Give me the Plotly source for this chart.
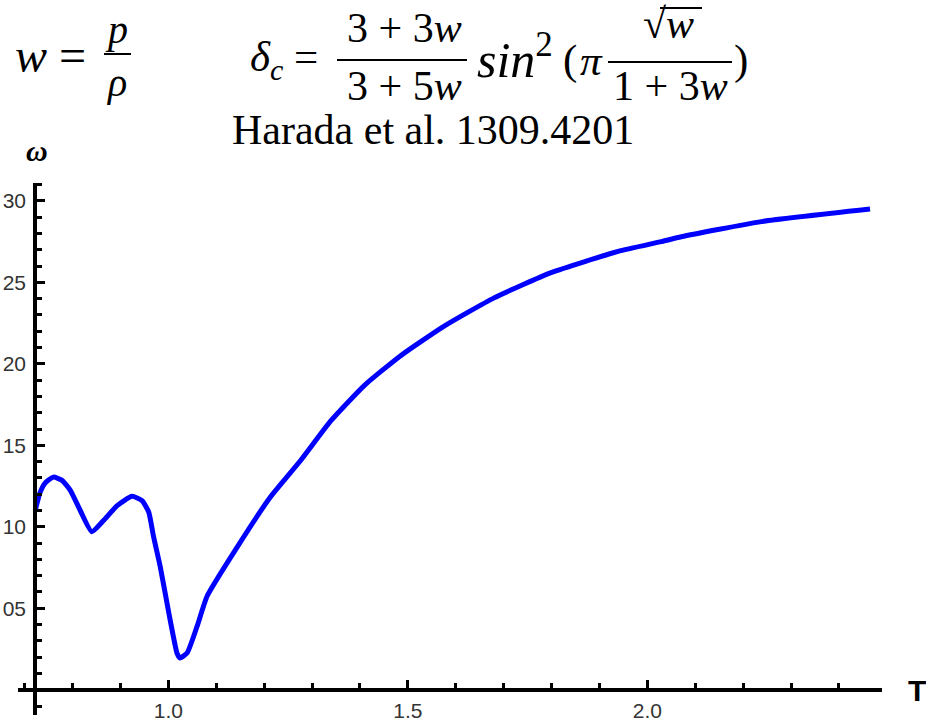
import plotly.graph_objects as go

# Curve samples: temperature T versus omega
T = [0.722, 0.732, 0.743, 0.760, 0.778, 0.795, 0.816, 0.840, 0.865, 0.893,
     0.924, 0.945, 0.959, 0.969, 0.983, 1.001, 1.018, 1.024, 1.039, 1.060,
     1.081, 1.144, 1.213, 1.276, 1.339, 1.410, 1.485,
     1.575, 1.680, 1.799, 1.939, 2.029, 2.071, 2.238, 2.465]
omega = [11.0, 12.1, 12.7, 13.05, 12.85, 12.25, 11.0, 9.7, 10.4, 11.3,
         11.87, 11.6, 10.9, 9.4, 7.55, 4.7, 2.25, 1.95, 2.25, 3.9,
         5.75, 8.77, 11.83, 14.07, 16.5, 18.7, 20.5,
         22.3, 24.05, 25.6, 26.9, 27.5, 27.8, 28.73, 29.5]

x_ticks = [1.0, 1.5, 2.0]
x_tick_text = ["1.0", "1.5", "2.0"]
y_ticks = [5, 10, 15, 20, 25, 30]
y_tick_text = ["05", "10", "15", "20", "25", "30"]

x_range = [0.686, 2.49]
y_range = [-1.55, 31.1]
x_cross = 0.722   # T where the vertical axis sits
y_cross = 0.0     # omega where the horizontal axis sits

W, H = 926, 726
ML, MR, MT, MB = 18, 44, 183, 11
PW, PH = W - ML - MR, H - MT - MB


def px(x):
    return (x - ML) / PW


def py(y):
    return (H - MB - y) / PH


fig = go.Figure()
fig.add_trace(go.Scatter(
    x=T, y=omega, mode="lines",
    line=dict(color="#0000ff", width=5, shape="spline", smoothing=0.5),
    hoverinfo="skip", showlegend=False,
))

tick_font = dict(family="Liberation Sans, Arial, sans-serif", size=21, color="#333333")

fig.update_xaxes(
    range=x_range, anchor="free",
    position=(y_cross - y_range[0]) / (y_range[1] - y_range[0]),
    showline=True, linewidth=4, linecolor="black",
    showgrid=False, zeroline=False,
    tickmode="array", tickvals=x_ticks, ticktext=x_tick_text,
    ticks="inside", ticklen=8, tickwidth=3, tickcolor="black",
    minor=dict(tickmode="linear", tick0=0, dtick=0.1, ticks="inside",
               ticklen=5, tickwidth=3, tickcolor="black", showgrid=False),
    tickfont=tick_font, ticklabelstandoff=1, automargin=False,
)
fig.update_yaxes(
    range=y_range, anchor="free",
    position=(x_cross - x_range[0]) / (x_range[1] - x_range[0]),
    showline=True, linewidth=4, linecolor="black",
    showgrid=False, zeroline=False,
    tickmode="array", tickvals=y_ticks, ticktext=y_tick_text,
    ticks="inside", ticklen=8, tickwidth=3, tickcolor="black",
    minor=dict(tickmode="linear", tick0=0, dtick=1, ticks="inside",
               ticklen=5, tickwidth=3, tickcolor="black", showgrid=False),
    tickfont=tick_font, ticklabelstandoff=3, automargin=False,
)

SERIF = "Liberation Serif, Times New Roman, serif"
annotations = []
shapes = []


def text(s, x, y, size, family=SERIF, xanchor="center", color="black"):
    annotations.append(dict(
        text=s, x=px(x), y=py(y), xref="paper", yref="paper",
        xanchor=xanchor, yanchor="middle", showarrow=False,
        font=dict(family=family, size=size, color=color),
    ))


def bar(x0, x1, y, width=2):
    shapes.append(dict(
        type="line", xref="paper", yref="paper",
        x0=px(x0), x1=px(x1), y0=py(y), y1=py(y),
        line=dict(color="black", width=width),
    ))


# w = p / rho
text("<i>w</i> =", 50, 56, 48)
text("<i>p</i>", 116, 30, 40)
bar(104, 131, 54)
text("<i>ρ</i>", 116, 82, 40)

# delta_c = (3+3w)/(3+5w) sin^2(pi sqrt(w)/(1+3w))
text("<i>δ<sub>c</sub></i> =", 284, 60, 43)
text("3 + 3<i>w</i>", 404, 28, 42)
bar(337, 467, 60)
text("3 + 5<i>w</i>", 404, 86, 42)
text("<i>sin</i><sup>2</sup>", 475, 57, 50, xanchor="left")
text("(", 570, 60, 43)
text("<i>π</i>", 591, 60, 43)
text("√<i>w</i>", 668, 24, 42)
bar(660, 702, 8)
bar(608, 732, 62)
text("1 + 3<i>w</i>", 670, 86, 42)
text(")", 741, 60, 43)

text("Harada et al. 1309.4201", 433, 130, 42)

# axis names
text("<b><i>ω</i></b>", 37, 150, 30)
text("<b>T</b>", 906, 690, 30, family="Liberation Sans, Arial, sans-serif", xanchor="left")

fig.update_layout(
    width=W, height=H,
    margin=dict(l=ML, r=MR, t=MT, b=MB, pad=0),
    paper_bgcolor="white", plot_bgcolor="white",
    annotations=annotations, shapes=shapes,
    showlegend=False,
)

fig.write_html("out.html")
